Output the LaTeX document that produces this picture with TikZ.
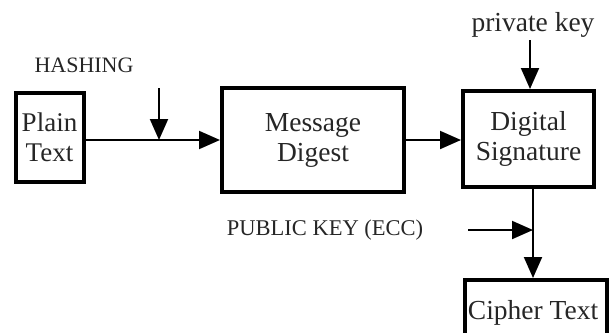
\documentclass[tikz,border=0pt]{standalone}
\usepackage{fontspec}
\setmainfont{Liberation Serif}
\usetikzlibrary{arrows.meta}
\tikzset{
  blk/.style={draw, line width=4pt, inner sep=0pt, align=center, font=\fontsize{27.5}{30}\selectfont, text=black!85},
  lbl/.style={inner sep=0pt, text=black!85},
  arr/.style={line width=2pt, -{Triangle[length=21pt,width=18pt]}},
  ln/.style={line width=2pt}
}
\begin{document}
\begin{tikzpicture}[x=1pt,y=-1pt]
\useasboundingbox (0,0) rectangle (612,332);
\clip (0,0) rectangle (612,332);
\node[blk, minimum width=68pt, minimum height=89pt, font=\fontsize{27}{30}\selectfont] (plain) at (49.5,137.5) {Plain\\Text};
\node[blk, minimum width=182pt, minimum height=104pt] (md) at (313,140) {Message\\Digest};
\node[blk, minimum width=131pt, minimum height=96pt] (ds) at (528.5,139) {Digital\\Signature};
\node[blk, minimum width=142pt, minimum height=72pt] (ct) at (536,316) {};
\node[lbl, font=\fontsize{27.5}{30}\selectfont] (cttext) at (533,313) {Cipher Text};
\node[lbl, font=\fontsize{22}{24}\selectfont] (hash) at (84,65) {HASHING};
\node[lbl, font=\fontsize{22.5}{24}\selectfont] (pub) at (325,230) {PUBLIC KEY (ECC)};
\node[lbl, font=\fontsize{27.5}{30}\selectfont] (priv) at (533,25) {private key};
\coordinate (hs) at (159,88);
\coordinate (hj) at (159,140);
\coordinate (ps) at (530,40);
\coordinate (v) at (533,0);
\coordinate (ks) at (468,230);
\coordinate (kj) at (533,230);
\draw[arr] (plain.east |- md.west) -- (md.west);
\draw[arr] (hs) -- (hj);
\draw[arr] (md.east) -- (md.east -| ds.west);
\draw[arr] (ps) -- (ps |- ds.north);
\draw[arr] (ds.south -| v) -- (ct.north -| v);
\draw[arr] (ks) -- (kj);
\end{tikzpicture}
\end{document}
